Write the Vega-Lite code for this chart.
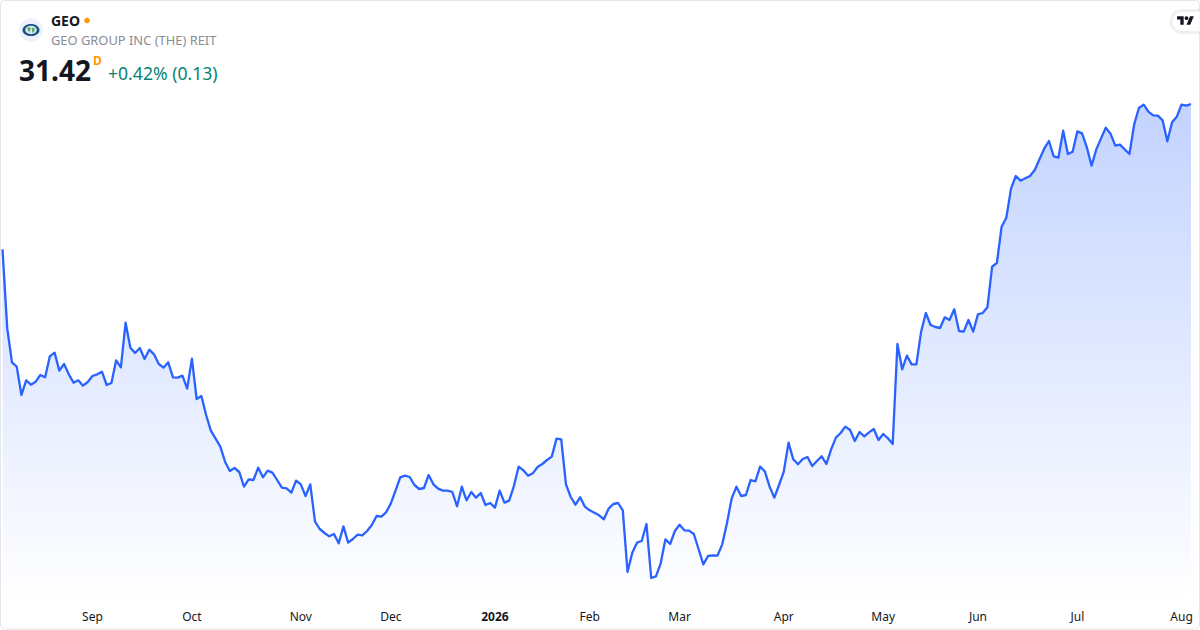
{
  "$schema": "https://vega.github.io/schema/vega-lite/v6.json",
  "width": 1200,
  "height": 602,
  "padding": {"left": 0, "top": 0, "right": 0, "bottom": 28},
  "autosize": {"type": "none"},
  "background": "#ffffff",
  "config": {"view": {"stroke": null}, "font": "Noto Sans"},
  "datasets": {
    "months": [
      {"month":"Sep","session":19},{"month":"Oct","session":40},{"month":"Nov","session":63},{"month":"Dec","session":82},
      {"month":"2026","session":104},{"month":"Feb","session":124},{"month":"Mar","session":143},{"month":"Apr","session":165},
      {"month":"May","session":186},{"month":"Jun","session":206},{"month":"Jul","session":227},{"month":"Aug","session":249}
    ],
    "closes": [
      {"session":0,"close":27.06},{"session":1,"close":24.69},{"session":2,"close":23.67},{"session":3,"close":23.54},{"session":4,"close":22.69},{"session":5,"close":23.13},{"session":6,"close":23.00},{"session":7,"close":23.09},{"session":8,"close":23.29},{"session":9,"close":23.22},
      {"session":10,"close":23.85},{"session":11,"close":23.96},{"session":12,"close":23.42},{"session":13,"close":23.62},{"session":14,"close":23.31},{"session":15,"close":23.06},{"session":16,"close":23.13},{"session":17,"close":22.97},{"session":18,"close":23.08},{"session":19,"close":23.26},
      {"session":20,"close":23.31},{"session":21,"close":23.39},{"session":22,"close":22.99},{"session":23,"close":23.05},{"session":24,"close":23.73},{"session":25,"close":23.52},{"session":26,"close":24.86},{"session":27,"close":24.11},{"session":28,"close":23.95},{"session":29,"close":24.10},
      {"session":30,"close":23.77},{"session":31,"close":24.05},{"session":32,"close":23.91},{"session":33,"close":23.62},{"session":34,"close":23.51},{"session":35,"close":23.67},{"session":36,"close":23.22},{"session":37,"close":23.21},{"session":38,"close":23.27},{"session":39,"close":22.88},
      {"session":40,"close":23.78},{"session":41,"close":22.57},{"session":42,"close":22.66},{"session":43,"close":22.09},{"session":44,"close":21.62},{"session":45,"close":21.38},{"session":46,"close":21.14},{"session":47,"close":20.69},{"session":48,"close":20.41},{"session":49,"close":20.50},
      {"session":50,"close":20.38},{"session":51,"close":19.94},{"session":52,"close":20.16},{"session":53,"close":20.14},{"session":54,"close":20.51},{"session":55,"close":20.22},{"session":56,"close":20.42},{"session":57,"close":20.36},{"session":58,"close":20.14},{"session":59,"close":19.91},
      {"session":60,"close":19.89},{"session":61,"close":19.76},{"session":62,"close":20.12},{"session":63,"close":20.01},{"session":64,"close":19.66},{"session":65,"close":20.01},{"session":66,"close":18.89},{"session":67,"close":18.67},{"session":68,"close":18.55},{"session":69,"close":18.45},
      {"session":70,"close":18.52},{"session":71,"close":18.24},{"session":72,"close":18.75},{"session":73,"close":18.26},{"session":74,"close":18.37},{"session":75,"close":18.50},{"session":76,"close":18.48},{"session":77,"close":18.61},{"session":78,"close":18.79},{"session":79,"close":19.06},
      {"session":80,"close":19.04},{"session":81,"close":19.17},{"session":82,"close":19.43},{"session":83,"close":19.82},{"session":84,"close":20.22},{"session":85,"close":20.27},{"session":86,"close":20.23},{"session":87,"close":19.99},{"session":88,"close":19.87},{"session":89,"close":19.90},
      {"session":90,"close":20.29},{"session":91,"close":20.01},{"session":92,"close":19.88},{"session":93,"close":19.82},{"session":94,"close":19.82},{"session":95,"close":19.78},{"session":96,"close":19.35},{"session":97,"close":19.94},{"session":98,"close":19.53},{"session":99,"close":19.78},
      {"session":100,"close":19.61},{"session":101,"close":19.75},{"session":102,"close":19.39},{"session":103,"close":19.45},{"session":104,"close":19.31},{"session":105,"close":19.82},{"session":106,"close":19.46},{"session":107,"close":19.52},{"session":108,"close":19.96},{"session":109,"close":20.54},
      {"session":110,"close":20.43},{"session":111,"close":20.27},{"session":112,"close":20.34},{"session":113,"close":20.53},{"session":114,"close":20.62},{"session":115,"close":20.74},{"session":116,"close":20.84},{"session":117,"close":21.38},{"session":118,"close":21.36},{"session":119,"close":20.01},
      {"session":120,"close":19.63},{"session":121,"close":19.40},{"session":122,"close":19.62},{"session":123,"close":19.34},{"session":124,"close":19.23},{"session":125,"close":19.16},{"session":126,"close":19.08},{"session":127,"close":18.96},{"session":128,"close":19.28},{"session":129,"close":19.42},
      {"session":130,"close":19.45},{"session":131,"close":19.23},{"session":132,"close":17.38},{"session":133,"close":17.96},{"session":134,"close":18.26},{"session":135,"close":18.31},{"session":136,"close":18.82},{"session":137,"close":17.20},{"session":138,"close":17.25},{"session":139,"close":17.64},
      {"session":140,"close":18.36},{"session":141,"close":18.22},{"session":142,"close":18.61},{"session":143,"close":18.80},{"session":144,"close":18.63},{"session":145,"close":18.62},{"session":146,"close":18.52},{"session":147,"close":18.07},{"session":148,"close":17.61},{"session":149,"close":17.86},
      {"session":150,"close":17.88},{"session":151,"close":17.87},{"session":152,"close":18.21},{"session":153,"close":18.84},{"session":154,"close":19.59},{"session":155,"close":19.94},{"session":156,"close":19.66},{"session":157,"close":19.69},{"session":158,"close":20.14},{"session":159,"close":20.10},
      {"session":160,"close":20.54},{"session":161,"close":20.40},{"session":162,"close":19.94},{"session":163,"close":19.61},{"session":164,"close":19.99},{"session":165,"close":20.39},{"session":166,"close":21.26},{"session":167,"close":20.76},{"session":168,"close":20.61},{"session":169,"close":20.77},
      {"session":170,"close":20.83},{"session":171,"close":20.56},{"session":172,"close":20.71},{"session":173,"close":20.85},{"session":174,"close":20.62},{"session":175,"close":21.06},{"session":176,"close":21.41},{"session":177,"close":21.55},{"session":178,"close":21.74},{"session":179,"close":21.64},
      {"session":180,"close":21.31},{"session":181,"close":21.58},{"session":182,"close":21.45},{"session":183,"close":21.57},{"session":184,"close":21.67},{"session":185,"close":21.34},{"session":186,"close":21.52},{"session":187,"close":21.39},{"session":188,"close":21.22},{"session":189,"close":24.22},
      {"session":190,"close":23.46},{"session":191,"close":23.87},{"session":192,"close":23.61},{"session":193,"close":23.61},{"session":194,"close":24.59},{"session":195,"close":25.15},{"session":196,"close":24.79},{"session":197,"close":24.73},{"session":198,"close":24.70},{"session":199,"close":25.02},
      {"session":200,"close":24.94},{"session":201,"close":25.26},{"session":202,"close":24.61},{"session":203,"close":24.59},{"session":204,"close":24.94},{"session":205,"close":24.59},{"session":206,"close":25.11},{"session":207,"close":25.15},{"session":208,"close":25.32},{"session":209,"close":26.54},
      {"session":210,"close":26.65},{"session":211,"close":27.74},{"session":212,"close":28.01},{"session":213,"close":28.89},{"session":214,"close":29.26},{"session":215,"close":29.12},{"session":216,"close":29.19},{"session":217,"close":29.26},{"session":218,"close":29.44},{"session":219,"close":29.76},
      {"session":220,"close":30.08},{"session":221,"close":30.31},{"session":222,"close":29.85},{"session":223,"close":29.81},{"session":224,"close":30.62},{"session":225,"close":29.92},{"session":226,"close":29.99},{"session":227,"close":30.60},{"session":228,"close":30.54},{"session":229,"close":30.12},
      {"session":230,"close":29.57},{"session":231,"close":30.06},{"session":232,"close":30.39},{"session":233,"close":30.71},{"session":234,"close":30.53},{"session":235,"close":30.17},{"session":236,"close":30.20},{"session":237,"close":30.06},{"session":238,"close":29.92},{"session":239,"close":30.81},
      {"session":240,"close":31.30},{"session":241,"close":31.40},{"session":242,"close":31.19},{"session":243,"close":31.08},{"session":244,"close":31.07},{"session":245,"close":30.93},{"session":246,"close":30.30},{"session":247,"close":30.87},{"session":248,"close":31.04},{"session":249,"close":31.40},
      {"session":250,"close":31.37},{"session":251,"close":31.42}
    ]
  },
  "layer": [
    {
      "data": {"name": "closes"},
      "mark": {
        "type": "area",
        "color": {
          "gradient": "linear",
          "x1": 0, "y1": 0, "x2": 0, "y2": 1,
          "stops": [
            {"offset": 0, "color": "rgba(41,98,255,0.28)"},
            {"offset": 1, "color": "rgba(41,98,255,0)"}
          ]
        }
      },
      "encoding": {
        "x": {
          "field": "session",
          "type": "quantitative",
          "title": null,
          "scale": {"domain": [-0.528, 252.9], "nice": false, "zero": false},
          "axis": null
        },
        "y": {
          "field": "close",
          "type": "quantitative",
          "title": null,
          "scale": {"domain": [16.48, 34.54], "nice": false, "zero": false},
          "axis": null
        },
        "y2": {"datum": 16.48}
      }
    },
    {
      "data": {"name": "closes"},
      "mark": {"type": "line", "color": "#2962ff", "strokeWidth": 2.3, "strokeJoin": "round"},
      "encoding": {
        "x": {"field": "session", "type": "quantitative", "axis": null},
        "y": {"field": "close", "type": "quantitative", "axis": null}
      }
    },
    {
      "data": {"name": "months"},
      "transform": [{"filter": "datum.month !== '2026'"}],
      "mark": {"type": "text", "align": "center", "baseline": "middle", "fontSize": 12, "color": "#131722"},
      "encoding": {
        "x": {"field": "session", "type": "quantitative", "axis": null},
        "y": {"datum": 16.03, "type": "quantitative", "axis": null},
        "text": {"field": "month"}
      }
    },
    {
      "data": {"name": "months"},
      "transform": [{"filter": "datum.month === '2026'"}],
      "mark": {"type": "text", "align": "center", "baseline": "middle", "fontSize": 12, "fontWeight": "bold", "color": "#131722"},
      "encoding": {
        "x": {"field": "session", "type": "quantitative", "axis": null},
        "y": {"datum": 16.03, "type": "quantitative", "axis": null},
        "text": {"field": "month"}
      }
    },
    {
      "data": {"values": [{"kind": "frame"}]},
      "mark": {"type": "rect", "fill": null, "stroke": "#e6e6ea", "strokeWidth": 1, "cornerRadius": 4},
      "encoding": {
        "x": {"datum": -0.422, "type": "quantitative", "axis": null},
        "x2": {"datum": 252.8},
        "y": {"datum": 34.525, "type": "quantitative", "axis": null},
        "y2": {"datum": 15.67}
      }
    },
    {
      "data": {"values": [{"kind": "logo"}]},
      "mark": {"type": "point", "shape": "circle", "filled": true, "fill": "#eef1fa", "size": 560, "opacity": 1},
      "encoding": {"x": {"datum": 6.02, "type": "quantitative", "axis": null}, "y": {"datum": 33.64, "type": "quantitative", "axis": null}}
    },
    {
      "data": {"values": [{"kind": "logo"}]},
      "mark": {"type": "point", "shape": "M-1,0A1,0.72 0 1,1 1,0A1,0.72 0 1,1 -1,0Z", "filled": true, "fill": "#1a4f8e", "size": 289, "opacity": 1},
      "encoding": {"x": {"datum": 6.02, "type": "quantitative", "axis": null}, "y": {"datum": 33.64, "type": "quantitative", "axis": null}}
    },
    {
      "data": {"values": [{"kind": "logo"}]},
      "mark": {"type": "point", "shape": "M-1,0A1,0.72 0 1,1 1,0A1,0.72 0 1,1 -1,0Z", "filled": true, "fill": "#d7ebe6", "size": 132, "opacity": 1},
      "encoding": {"x": {"datum": 6.02, "type": "quantitative", "axis": null}, "y": {"datum": 33.64, "type": "quantitative", "axis": null}}
    },
    {
      "data": {"values": [{"kind": "logo"}]},
      "mark": {"type": "point", "shape": "M-0.8,-0.4L-0.2,-0.6L-0.1,-0.1L-0.4,0.5L-0.6,0ZM0.1,-0.5L0.8,-0.3L0.6,0.3L0.3,0.6L0.2,0Z", "filled": true, "fill": "#58a468", "size": 100, "opacity": 1},
      "encoding": {"x": {"datum": 6.02, "type": "quantitative", "axis": null}, "y": {"datum": 33.64, "type": "quantitative", "axis": null}}
    },
    {
      "data": {"values": [{"label": "GEO"}]},
      "mark": {"type": "text", "align": "left", "baseline": "middle", "fontSize": 14, "fontWeight": "bold", "color": "#131722"},
      "encoding": {"x": {"datum": 10.24, "type": "quantitative", "axis": null}, "y": {"datum": 33.89, "type": "quantitative", "axis": null}, "text": {"field": "label"}}
    },
    {
      "data": {"values": [{"kind": "status"}]},
      "mark": {"type": "point", "shape": "circle", "filled": true, "fill": "#ff9800", "size": 30, "opacity": 1},
      "encoding": {"x": {"datum": 17.85, "type": "quantitative", "axis": null}, "y": {"datum": 33.925, "type": "quantitative", "axis": null}}
    },
    {
      "data": {"values": [{"label": "GEO GROUP INC (THE) REIT"}]},
      "mark": {"type": "text", "align": "left", "baseline": "middle", "fontSize": 12.9, "color": "#8a8d96"},
      "encoding": {"x": {"datum": 10.24, "type": "quantitative", "axis": null}, "y": {"datum": 33.325, "type": "quantitative", "axis": null}, "text": {"field": "label"}}
    },
    {
      "data": {"values": [{"label": "31.42"}]},
      "mark": {"type": "text", "align": "left", "baseline": "middle", "fontSize": 28, "fontWeight": "bold", "color": "#131722"},
      "encoding": {"x": {"datum": 3.48, "type": "quantitative", "axis": null}, "y": {"datum": 32.35, "type": "quantitative", "axis": null}, "text": {"field": "label"}}
    },
    {
      "data": {"values": [{"label": "D"}]},
      "mark": {"type": "text", "align": "left", "baseline": "middle", "fontSize": 12, "fontWeight": "bold", "color": "#ff9800"},
      "encoding": {"x": {"datum": 19.1, "type": "quantitative", "axis": null}, "y": {"datum": 32.71, "type": "quantitative", "axis": null}, "text": {"field": "label"}}
    },
    {
      "data": {"values": [{"label": "+0.42% (0.13)"}]},
      "mark": {"type": "text", "align": "left", "baseline": "middle", "fontSize": 17.6, "color": "#058470"},
      "encoding": {"x": {"datum": 22.28, "type": "quantitative", "axis": null}, "y": {"datum": 32.29, "type": "quantitative", "axis": null}, "text": {"field": "label"}}
    },
    {
      "data": {"values": [{"kind": "button"}]},
      "mark": {"type": "point", "shape": "M1,-0.73H-0.27A0.73,0.73 0 0 0 -0.27,0.73H1Z", "filled": true, "fill": "#ffffff", "stroke": "#000000", "strokeOpacity": 0.06, "strokeWidth": 3, "size": 900, "opacity": 1},
      "encoding": {"x": {"datum": 249.95, "type": "quantitative", "axis": null}, "y": {"datum": 33.895, "type": "quantitative", "axis": null}}
    },
    {
      "data": {"values": [{"kind": "button"}]},
      "mark": {"type": "point", "shape": "M-0.222,0.5H-0.611V-0.111H-1V-0.5H-0.222ZM0.556,0.5H0.111L0.528,-0.5H0.972ZM-0.111,-0.278a0.222,0.222 0 1,0 0.444,0a0.222,0.222 0 1,0 -0.444,0Z", "filled": true, "fill": "#131722", "size": 289, "opacity": 1},
      "encoding": {"x": {"datum": 249.85, "type": "quantitative", "axis": null}, "y": {"datum": 33.925, "type": "quantitative", "axis": null}}
    }
  ]
}
